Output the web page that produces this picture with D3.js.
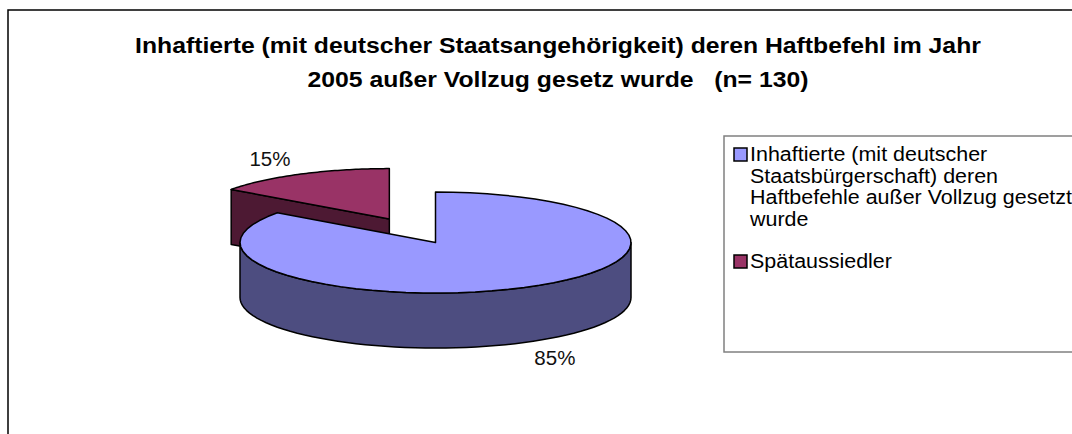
<!DOCTYPE html>
<html>
<head>
<meta charset="utf-8">
<script src="https://cdn.jsdelivr.net/npm/d3@7"></script>
<style>
  body { margin: 0; background: #fff; }
  svg { display: block; font-family: "Liberation Sans", Arial, sans-serif; }
</style>
</head>
<body>
<svg id="chart" width="1072" height="434"></svg>
<script>
// chart data
var titleLines = ["Inhaftierte (mit deutscher Staatsangehörigkeit) deren Haftbefehl im Jahr",
                  "2005 außer Vollzug gesetz wurde   (n= 130)"];
var categories = ["Inhaftierte (mit deutscher Staatsbürgerschaft) deren Haftbefehle außer Vollzug gesetzt wurde",
                  "Spätaussiedler"];
var legendLines = [["Inhaftierte (mit deutscher", "Staatsbürgerschaft) deren", "Haftbefehle außer Vollzug gesetzt", "wurde"],
                   ["Spätaussiedler"]];
var values = [85, 15];
var topColors = ["#9999ff", "#993366"];
var sideColors = ["#4d4d80", "#4d1933"];

var svg = d3.select("#chart");

// the original picture is a bit wider than it is tall, stretch text to match
var stretchX = 1.1;
var stretch = function (sel) {
    sel.each(function () {
        var w = this.getComputedTextLength();
        d3.select(this)
            .attr("textLength", w * stretchX)
            .attr("lengthAdjust", "spacingAndGlyphs");
    });
};

// outer frame
svg.append("rect")
    .attr("x", 8).attr("y", 10)
    .attr("width", 1100).attr("height", 500)
    .attr("fill", "#fff")
    .attr("stroke", "#000")
    .attr("stroke-width", 1.5);

// title
svg.append("g").selectAll("text")
    .data(titleLines)
    .enter()
    .append("text")
    .attr("x", 558)
    .attr("y", function (d, i) { return 53 + i * 34; })
    .attr("text-anchor", "middle")
    .attr("font-weight", "bold")
    .attr("font-size", "22.5px")
    .attr("xml:space", "preserve")
    .style("white-space", "pre")
    .text(function (d) { return d; })
    .call(stretch);

// pie geometry
var cx = 435.5, cy = 242.5, rx = 195.5, ry = 50.5, depth = 55;
var explode = [0, 0.52];
var total = d3.sum(values);

var pie = d3.pie().sort(null).value(function (d) { return d; });
var arcs = pie(values);

function pt(a, ox, oy, dz, k) {
    k = k || 1;
    return [ox + k * rx * Math.sin(a), oy - k * ry * Math.cos(a) + dz];
}

function rimPath(a0, a1, ox, oy, dz, first) {
    var n = 60, s = "";
    for (var i = 0; i <= n; i++) {
        var a = a0 + (a1 - a0) * i / n;
        var p = pt(a, ox, oy, dz);
        s += (i === 0 && first ? "M" : "L") + p[0] + "," + p[1];
    }
    return s;
}

arcs.forEach(function (d, i) {
    var mid = (d.startAngle + d.endAngle) / 2;
    d.ox = cx + explode[i] * rx * Math.sin(mid);
    d.oy = cy - explode[i] * ry * Math.cos(mid);
    d.mid = mid;
    d.idx = i;
});

var pieG = svg.append("g");

// draw back slice first
var order = arcs.slice().sort(function (a, b) { return b.idx - a.idx; });

order.forEach(function (d) {
    var g = pieG.append("g");
    var i = d.idx;
    var sc = sideColors[i];

    // radial side faces, only those turned towards the viewer
    [[d.startAngle, -1], [d.endAngle, 1]].forEach(function (e) {
        var a = e[0];
        var ny = -Math.cos(a + e[1] * Math.PI / 2);
        if (ny <= 0.001) return;
        var p0 = [d.ox, d.oy], p1 = pt(a, d.ox, d.oy, 0);
        var s = "M" + p0 + "L" + p1 + "L" + [p1[0], p1[1] + depth] + "L" + [p0[0], p0[1] + depth] + "Z";
        g.append("path").attr("d", s)
            .attr("fill", sc).attr("stroke", "#000").attr("stroke-width", 1.5)
            .attr("stroke-linejoin", "round");
    });

    // curved outer side for the front half
    var a0 = Math.max(d.startAngle, Math.PI / 2), a1 = Math.min(d.endAngle, 3 * Math.PI / 2);
    if (a1 > a0) {
        var s = rimPath(a0, a1, d.ox, d.oy, 0, true) + rimPath(a1, a0, d.ox, d.oy, depth, false) + "Z";
        g.append("path").attr("d", s)
            .attr("fill", sc).attr("stroke", "#000").attr("stroke-width", 1.5)
            .attr("stroke-linejoin", "round");
    }

    // top face
    var t = "M" + d.ox + "," + d.oy + rimPath(d.startAngle, d.endAngle, d.ox, d.oy, 0, false) + "Z";
    g.append("path").attr("d", t)
        .attr("fill", topColors[i]).attr("stroke", "#000").attr("stroke-width", 1.5)
        .attr("stroke-linejoin", "round");
});

// percentage labels
pieG.selectAll("text.pct")
    .data(arcs)
    .enter()
    .append("text")
    .attr("class", "pct")
    .attr("x", function (d) { return pt(d.mid, d.ox, d.oy, 0, 1.345)[0]; })
    .attr("y", function (d) {
        var dz = Math.cos(d.mid) < 0 ? depth : 0;
        return pt(d.mid, d.ox, d.oy, dz, 1.345)[1];
    })
    .attr("dy", "0.36em")
    .attr("text-anchor", "middle")
    .attr("font-size", "20.5px")
    .attr("fill", "#111")
    .text(function (d) { return Math.round(d.value / total * 100) + "%"; });

// legend
var leg = svg.append("g");
leg.append("rect")
    .attr("x", 724).attr("y", 136)
    .attr("width", 400).attr("height", 216)
    .attr("fill", "#fff")
    .attr("stroke", "#808080")
    .attr("stroke-width", 1.5);

var lineH = 21.6;
var itemY = [161, 268];
var items = leg.selectAll("g.item")
    .data(categories)
    .enter()
    .append("g")
    .attr("class", "item");

items.append("rect")
    .attr("x", 734)
    .attr("y", function (d, i) { return itemY[i] - 13; })
    .attr("width", 13).attr("height", 13)
    .attr("fill", function (d, i) { return topColors[i]; })
    .attr("stroke", "#000")
    .attr("stroke-width", 1.5);

items.each(function (d, i) {
    d3.select(this).selectAll("text")
        .data(legendLines[i])
        .enter()
        .append("text")
        .attr("x", 750)
        .attr("y", function (t, j) { return itemY[i] + j * lineH; })
        .attr("font-size", "19.5px")
        .attr("fill", "#000")
        .text(function (t) { return t; })
        .call(stretch);
});
</script>
</body>
</html>
